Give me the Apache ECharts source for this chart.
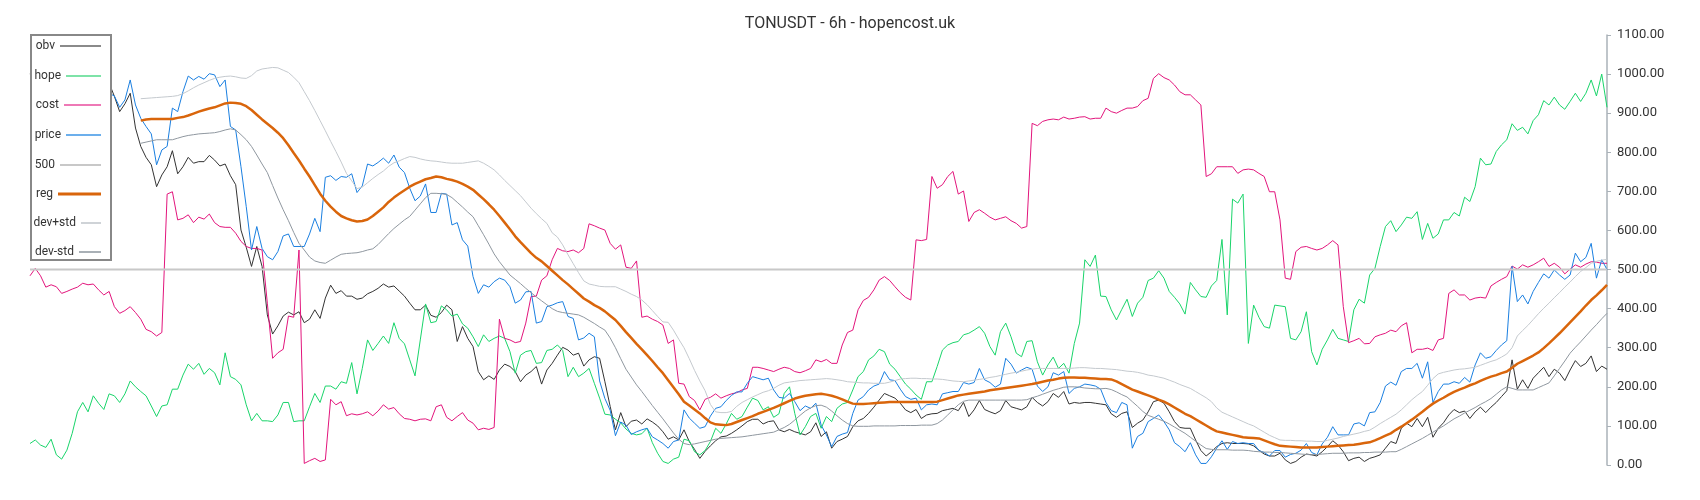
<!DOCTYPE html>
<html>
<head>
<meta charset="utf-8">
<script src="https://cdn.jsdelivr.net/npm/echarts@6/dist/echarts.min.js"></script>
<style>
  html, body { margin: 0; padding: 0; background: #fff; }
  #chart { width: 1700px; height: 500px; }
</style>
</head>
<body>
<div id="chart"></div>
<script>
// TONUSDT 6h, 300 candles
var candles = [];
for (var k = 0; k < 300; k++) candles.push(k);

var yTicks = { min: 0, max: 1100, step: 100 };

var obv = [
  1000, 1020, 995, 1010, 1030, 1010, 995, 1005, 1020, 1000,
  990, 1005, 1015, 1000, 995, 977, 943, 904, 924, 951,
  862, 815, 787, 768, 712, 742, 763, 804, 745, 763,
  787, 772, 776, 776, 792, 780, 765, 770, 740, 717,
  601, 557, 508, 559, 508, 384, 335, 356, 381, 391,
  384, 392, 364, 373, 397, 375, 427, 460, 439, 446,
  432, 432, 424, 427, 438, 444, 452, 463, 455, 458,
  445, 432, 414, 397, 397, 409, 383, 378, 390, 409,
  397, 316, 354, 324, 303, 239, 218, 228, 219, 243,
  258, 252, 239, 213, 230, 239, 252, 207, 243, 260,
  281, 301, 294, 281, 286, 253, 269, 277, 273, 213,
  150, 90, 134, 98, 112, 115, 105, 118, 110, 100,
  85, 66, 72, 64, 90, 60, 40, 17, 35, 49,
  62, 72, 74, 81, 90, 100, 111, 117, 117, 105,
  111, 113, 90, 85, 91, 85, 81, 77, 85, 108,
  73, 85, 43, 60, 66, 73, 98, 113, 119, 132,
  148, 166, 183, 177, 171, 158, 141, 134, 142, 119,
  128, 131, 132, 139, 142, 145, 139, 160, 124, 141,
  165, 142, 136, 131, 139, 165, 149, 145, 141, 149,
  173, 160, 151, 162, 183, 173, 188, 156, 160, 158,
  160, 160, 158, 156, 154, 131, 122, 132, 136, 96,
  107, 115, 136, 162, 166, 158, 136, 111, 96, 94,
  94, 64, 37, 23, 34, 47, 55, 57, 55, 55,
  55, 54, 49, 38, 28, 23, 23, 30, 13, 4,
  9, 20, 28, 26, 23, 34, 47, 62, 51, 34,
  11, 17, 20, 9, 17, 21, 26, 43, 60, 55,
  94, 107, 98, 119, 98, 122, 71, 94, 108, 128,
  142, 134, 138, 119, 136, 148, 134, 148, 160, 175,
  190, 269, 194, 218, 196, 222, 236, 250, 226, 245,
  235, 216, 243, 267, 252, 260, 279, 239, 253, 245
];

var hope = [
  55, 64, 51, 45, 66, 26, 15, 38, 81, 136,
  160, 136, 177, 158, 142, 182, 177, 160, 182, 215,
  200, 188, 177, 151, 124, 151, 154, 194, 194, 230,
  258, 245, 260, 232, 247, 236, 205, 287, 226, 219,
  205, 154, 113, 132, 113, 113, 111, 128, 160, 160,
  111, 113, 113, 149, 183, 160, 202, 202, 194, 213,
  209, 262, 182, 247, 320, 293, 311, 330, 311, 364,
  324, 310, 269, 228, 320, 412, 364, 367, 407, 397,
  381, 386, 361, 350, 328, 303, 333, 316, 324, 330,
  324, 290, 235, 281, 290, 293, 260, 262, 293, 296,
  307, 293, 226, 250, 226, 235, 247, 209, 171, 130,
  128, 117, 108, 92, 81, 77, 80, 94, 57, 30,
  9, 4, 15, 20, 66, 62, 34, 26, 37, 60,
  94, 81, 105, 132, 117, 124, 148, 171, 165, 141,
  149, 122, 131, 183, 200, 132, 77, 98, 124, 132,
  94, 124, 111, 145, 156, 160, 192, 226, 239, 269,
  279, 296, 290, 258, 245, 226, 207, 194, 179, 168,
  213, 213, 252, 294, 307, 313, 316, 333, 337, 345,
  354, 337, 303, 281, 341, 363, 328, 286, 277, 316,
  318, 264, 230, 256, 276, 247, 260, 235, 311, 363,
  525, 508, 537, 432, 431, 397, 371, 398, 424, 380,
  414, 429, 472, 478, 497, 478, 444, 429, 412, 386,
  467, 448, 431, 429, 458, 472, 577, 384, 680, 670,
  693, 311, 409, 378, 354, 350, 409, 407, 405, 324,
  320, 341, 392, 290, 256, 296, 320, 347, 324, 320,
  316, 397, 424, 414, 486, 503, 559, 610, 625, 597,
  614, 634, 631, 648, 577, 618, 580, 591, 627, 627,
  646, 637, 685, 674, 712, 785, 768, 770, 802, 819,
  832, 873, 856, 864, 847, 881, 896, 932, 921, 941,
  921, 910, 930, 951, 930, 951, 985, 944, 1000, 915
];

var cost = [
  484, 503, 484, 455, 461, 456, 439, 444, 450, 455,
  465, 461, 463, 448, 435, 444, 405, 388, 395, 405,
  390, 373, 347, 341, 330, 339, 693, 699, 627, 631,
  640, 620, 634, 629, 642, 620, 610, 608, 608, 593,
  572, 559, 554, 554, 550, 414, 273, 287, 296, 381,
  378, 550, 4, 11, 17, 9, 13, 168, 154, 162,
  126, 131, 128, 131, 136, 126, 138, 154, 143, 147,
  131, 119, 117, 113, 117, 118, 113, 149, 154, 122,
  113, 124, 134, 115, 107, 90, 94, 91, 96, 373,
  324, 320, 313, 316, 363, 431, 432, 473, 484, 525,
  554, 548, 546, 550, 543, 554, 617, 612, 606, 601,
  567, 552, 563, 506, 503, 522, 378, 381, 373, 367,
  358, 311, 320, 209, 207, 175, 165, 141, 168, 173,
  182, 171, 177, 182, 185, 192, 196, 250, 250, 247,
  243, 239, 245, 250, 247, 239, 236, 241, 247, 269,
  264, 270, 260, 260, 307, 339, 345, 397, 421, 429,
  448, 473, 482, 472, 456, 441, 429, 422, 576, 574,
  577, 738, 708, 717, 738, 751, 693, 701, 623, 646,
  653, 644, 634, 627, 631, 635, 625, 618, 606, 610,
  874, 868, 879, 883, 885, 883, 890, 885, 887, 890,
  891, 885, 887, 887, 913, 904, 900, 907, 913, 913,
  917, 932, 938, 989, 1001, 991, 985, 972, 955, 947,
  947, 934, 921, 738, 745, 763, 763, 763, 763, 746,
  755, 757, 755, 746, 738, 699, 699, 627, 478, 475,
  546, 557, 559, 554, 550, 554, 563, 574, 563, 405,
  313, 318, 324, 310, 311, 328, 333, 337, 345, 341,
  356, 364, 287, 296, 296, 299, 293, 320, 324, 439,
  448, 435, 435, 422, 427, 429, 427, 458, 467, 475,
  482, 509, 501, 512, 506, 512, 520, 529, 508, 516,
  506, 489, 501, 512, 506, 514, 520, 519, 516, 516
];

var price = [
  1000, 1010, 990, 1005, 1020, 1000, 985, 995, 1010, 990,
  975, 990, 1000, 985, 975, 951, 944, 915, 934, 985,
  921, 887, 866, 847, 768, 806, 815, 913, 904, 955,
  995, 985, 994, 987, 1001, 998, 968, 985, 866, 857,
  763, 661, 550, 610, 554, 533, 525, 546, 586, 591,
  559, 559, 559, 591, 631, 597, 736, 740, 728, 738,
  736, 745, 697, 714, 770, 765, 774, 785, 772, 793,
  762, 748, 708, 676, 688, 719, 646, 646, 695, 693,
  614, 620, 576, 560, 482, 439, 461, 455, 469, 478,
  473, 456, 414, 422, 443, 444, 363, 367, 405, 409,
  415, 418, 380, 375, 320, 325, 337, 328, 215, 170,
  140, 75, 110, 102, 78, 85, 90, 94, 72, 64,
  55, 43, 60, 64, 141, 120, 107, 94, 98, 125,
  145, 149, 165, 178, 187, 187, 209, 226, 222, 218,
  222, 192, 173, 171, 183, 162, 139, 151, 145, 158,
  102, 77, 47, 73, 79, 83, 132, 166, 175, 192,
  202, 207, 239, 218, 216, 194, 175, 168, 171, 141,
  154, 156, 154, 182, 185, 188, 188, 211, 207, 211,
  247, 218, 211, 199, 207, 273, 258, 235, 243, 250,
  245, 202, 188, 200, 236, 230, 239, 183, 196, 200,
  207, 205, 202, 194, 160, 139, 134, 160, 154, 43,
  73, 81, 111, 119, 128, 111, 90, 57, 47, 34,
  57, 26, 4, 4, 21, 43, 62, 40, 60, 55,
  57, 55, 55, 37, 32, 23, 37, 37, 20, 27,
  30, 38, 55, 32, 26, 54, 71, 98, 77, 77,
  77, 105, 108, 100, 134, 136, 160, 202, 212, 204,
  239, 247, 247, 260, 222, 264, 160, 188, 207, 207,
  213, 209, 224, 212, 256, 287, 273, 277, 293, 307,
  318, 508, 418, 435, 412, 444, 467, 489, 478, 499,
  486, 475, 486, 542, 520, 531, 567, 478, 525, 500
];

var level = 500;

// reg / dev bands begin at candle 21
var bandStart = 21;

var reg = [
  881, 884, 885, 885, 885, 885, 885, 888, 890,
  894, 899, 904, 908, 912, 915, 920, 925, 927, 926,
  924, 918, 908, 896, 884, 873, 862, 850, 836, 818,
  798, 779, 758, 738, 716, 694, 676, 661, 648, 637,
  631, 626, 623, 624, 628, 637, 648, 659, 673, 684,
  694, 703, 712, 719, 725, 731, 734, 738, 736, 732,
  729, 725, 719, 712, 704, 692, 680, 667, 653, 637,
  620, 603, 585, 570, 556, 542, 530, 521, 509, 497,
  485, 473, 462, 450, 438, 426, 418, 409, 402, 393,
  382, 371, 356, 340, 325, 310, 296, 281, 266, 250,
  235, 217, 199, 181, 162, 152, 142, 132, 120, 109,
  104, 103, 102, 105, 110, 115, 120, 125, 131, 136,
  141, 146, 152, 158, 164, 170, 174, 177, 179, 181,
  182, 180, 177, 173, 168, 162, 157, 156, 156, 157,
  158, 159, 160, 161, 161, 161, 161, 161, 161, 161,
  161, 161, 162, 166, 170, 174, 178, 180, 182, 184,
  186, 188, 191, 193, 195, 197, 199, 201, 203, 205,
  207, 210, 213, 216, 218, 221, 223, 224, 224, 223,
  223, 222, 221, 220, 220, 219, 214, 207, 200, 193,
  188, 183, 178, 173, 167, 162, 155, 147, 139, 131,
  125, 117, 109, 101, 93, 86, 83, 80, 77, 74,
  71, 70, 69, 68, 63, 58, 53, 49, 48, 47,
  46, 45, 45, 45, 45, 46, 47, 48, 49, 50,
  51, 52, 54, 56, 58, 63, 69, 75, 81, 90,
  98, 107, 116, 126, 136, 147, 157, 165, 172, 180,
  187, 193, 198, 204, 209, 215, 221, 226, 230, 235,
  239, 249, 259, 266, 273, 280, 288, 299, 311, 324,
  337, 351, 365, 379, 393, 408, 422, 434, 447, 461
];

var devPlus = [
  937, 938, 939, 940, 941, 942, 943, 945, 950,
  957, 965, 972, 978, 984, 989, 992, 994, 995, 993,
  990, 989, 996, 1008, 1013, 1015, 1017, 1016, 1010, 1004,
  992, 978, 955, 932, 907, 881, 855, 828, 802, 775,
  746, 727, 707, 711, 722, 733, 743, 752, 764, 773,
  778, 784, 789, 787, 783, 780, 778, 777, 775, 773,
  772, 772, 772, 774, 776, 778, 772, 764, 755, 742,
  728, 715, 702, 689, 673, 657, 643, 630, 618, 594,
  583, 563, 538, 515, 492, 471, 463, 460, 457, 456,
  456, 456, 450, 444, 437, 431, 422, 410, 395, 380,
  366, 365, 345, 322, 300, 272, 242, 215, 190, 155,
  136, 134, 134, 137, 150, 160, 167, 174, 180, 186,
  190, 196, 204, 210, 212, 214, 216, 217, 218, 219,
  220, 221, 220, 218, 216, 213, 212, 211, 210, 210,
  209, 209, 209, 212, 216, 220, 221, 222, 222, 221,
  221, 220, 220, 219, 217, 215, 214, 213, 215, 217,
  219, 221, 224, 226, 229, 232, 235, 237, 240, 243,
  245, 247, 247, 247, 247, 247, 247, 247, 248, 249,
  249, 248, 247, 247, 246, 245, 244, 242, 240, 239,
  237, 234, 230, 228, 225, 222, 217, 212, 206, 201,
  196, 188, 180, 172, 162, 146, 135, 129, 123, 117,
  111, 105, 100, 92, 84, 76, 70, 64, 63, 63,
  62, 62, 61, 61, 60, 60, 63, 66, 69, 73,
  76, 79, 82, 86, 89, 97, 106, 114, 122, 130,
  141, 154, 167, 178, 188, 204, 221, 233, 237, 240,
  243, 245, 246, 248, 250, 255, 260, 265, 269, 276,
  284, 300, 330, 344, 357, 372, 387, 401, 414, 428,
  441, 455, 468, 482, 495, 505, 516, 521, 524, 526
];

var devMinus = [
  823, 826, 829, 832, 832, 832, 832, 836, 840,
  843, 845, 847, 848, 849, 850, 853, 857, 860, 857,
  845, 832, 815, 793, 770, 748, 715, 683, 653, 625,
  595, 567, 550, 532, 522, 518, 516, 524, 532, 539,
  541, 542, 543, 546, 550, 553, 564, 578, 592, 605,
  616, 627, 636, 652, 668, 684, 695, 695, 694, 692,
  684, 672, 660, 647, 635, 612, 589, 565, 540, 520,
  503, 486, 475, 464, 452, 441, 430, 420, 410, 400,
  393, 390, 388, 386, 384, 378, 370, 362, 353, 345,
  325, 300, 272, 245, 225, 205, 188, 170, 152, 135,
  118, 100, 82, 66, 55, 52, 54, 57, 60, 63,
  66, 68, 69, 70, 71, 72, 74, 76, 78, 80,
  82, 84, 90, 96, 104, 115, 127, 138, 146, 152,
  153, 148, 138, 126, 115, 106, 100, 99, 99, 99,
  100, 100, 100, 100, 100, 101, 101, 101, 101, 102,
  102, 102, 106, 115, 128, 141, 154, 163, 166, 166,
  166, 166, 166, 166, 166, 166, 166, 166, 166, 167,
  172, 176, 181, 186, 191, 195, 199, 200, 200, 199,
  197, 196, 195, 195, 196, 193, 187, 180, 174, 162,
  150, 137, 127, 122, 117, 112, 105, 97, 89, 81,
  71, 61, 51, 42, 40, 39, 39, 39, 38, 38,
  38, 37, 35, 34, 33, 33, 32, 32, 31, 30,
  29, 28, 27, 26, 27, 28, 29, 30, 30, 30,
  31, 31, 31, 32, 32, 33, 33, 33, 34, 34,
  40, 47, 54, 61, 68, 76, 84, 92, 100, 109,
  118, 125, 133, 140, 147, 155, 162, 170, 181, 192,
  200, 196, 192, 192, 192, 192, 198, 204, 210, 228,
  247, 266, 286, 301, 315, 330, 345, 359, 374, 388
];

function padBand(arr) {
  var out = [];
  for (var i = 0; i < bandStart; i++) out.push(null);
  return out.concat(arr);
}

var levelLine = candles.map(function () { return level; });

var chart = echarts.init(document.getElementById('chart'));

// legend rows: name, icon colour, icon width, icon thickness, row centre y
var rows = [
  ['obv', '#8a8a8a', 41, 2, 45],
  ['hope', '#7ee3a8', 35, 2, 75],
  ['cost', '#ee79b6', 37, 2, 104],
  ['price', '#6cafec', 35, 2, 134],
  ['500', '#c8c8c8', 41, 2, 164],
  ['reg', '#d9650b', 43, 3, 193],
  ['dev+std', '#cfd3d7', 20, 2, 222],
  ['dev-std', '#a9b0b6', 22, 2, 251]
];

var legends = rows.map(function (r) {
  return {
    orient: 'vertical',
    right: 1599,
    top: r[4] - 5,
    padding: 0,
    align: 'right',
    icon: 'rect',
    itemWidth: r[2],
    itemHeight: r[3],
    z: 200,
    textStyle: { fontSize: 12, color: '#333', fontFamily: 'Roboto' },
    data: [{ name: r[0], itemStyle: { color: r[1], borderWidth: 0 } }]
  };
});

function lineSeries(name, data, color, width, z) {
  return {
    name: name,
    type: 'line',
    data: data,
    symbol: 'none',
    showSymbol: false,
    connectNulls: false,
    z: z,
    lineStyle: { color: color, width: width },
    itemStyle: { color: color },
    emphasis: { disabled: true }
  };
}

chart.setOption({
  animation: false,
  textStyle: { fontFamily: 'Roboto' },
  title: {
    text: 'TONUSDT - 6h - hopencost.uk',
    left: 'center',
    top: 11,
    textStyle: { fontSize: 16, fontWeight: 'normal', color: '#333', fontFamily: 'Roboto' }
  },
  legend: legends,
  graphic: [{
    type: 'rect',
    z: 150,
    shape: { x: 31, y: 35, width: 80, height: 225 },
    style: { fill: '#fff', stroke: '#888', lineWidth: 2 }
  }],
  grid: { left: 30, right: 93, top: 35, bottom: 35 },
  xAxis: {
    type: 'category',
    data: candles,
    boundaryGap: false,
    show: false
  },
  yAxis: {
    type: 'value',
    position: 'right',
    min: yTicks.min,
    max: yTicks.max,
    interval: yTicks.step,
    axisLine: { show: true, lineStyle: { color: '#aab2b9', width: 1.5 } },
    axisTick: { show: true, length: 4, lineStyle: { color: '#aab2b9' } },
    splitLine: { show: false },
    axisLabel: {
      margin: 10,
      fontSize: 13,
      color: '#333',
      formatter: function (v) { return v.toFixed(2); }
    }
  },
  series: [
    lineSeries('obv', obv, '#333333', 1, 2),
    lineSeries('hope', hope, '#19d46a', 1, 2),
    lineSeries('cost', cost, '#e2157c', 1, 2),
    lineSeries('price', price, '#1a7fe0', 1, 2),
    lineSeries('500', levelLine, '#c8c8c8', 2, 2),
    lineSeries('reg', padBand(reg), '#d9650b', 2.5, 3),
    lineSeries('dev+std', padBand(devPlus), '#c4c9ce', 1, 2),
    lineSeries('dev-std', padBand(devMinus), '#8f979f', 1, 2)
  ]
});
</script>
</body>
</html>
